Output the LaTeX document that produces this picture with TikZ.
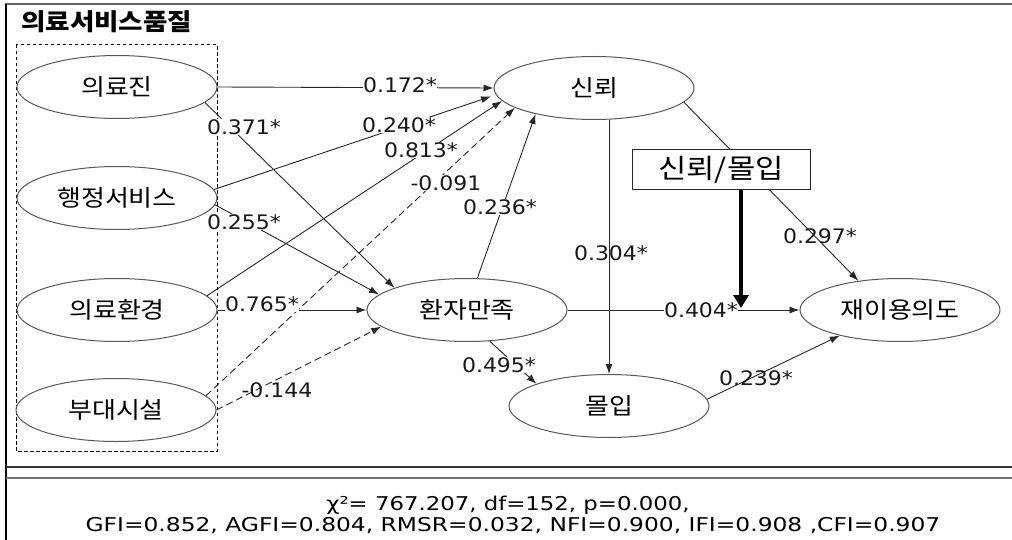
\documentclass[tikz,border=0pt]{standalone}
\usepackage{fontspec}
\usepackage{graphicx}
\usetikzlibrary{arrows.meta,shapes.geometric,backgrounds}
\newfontfamily\kr{Noto Sans CJK KR}
\newfontfamily\dv{DejaVu Sans}
\newcommand\hx[1]{\scalebox{1.13}[1]{#1}}
\newcommand\lx[1]{\scalebox{1.1}[1]{#1}}
\tikzset{
  ell/.style={ellipse, draw=black!65, line width=1pt, minimum width=200pt, minimum height=63pt, inner sep=0pt, font=\kr\fontsize{23}{23}\selectfont},
  conn/.style={draw=black!85, line width=0.9pt, -{Latex[length=10pt,width=7pt]}},
  dconn/.style={conn, dash pattern=on 7pt off 4pt},
  lab/.style={font=\dv\fontsize{20}{20}\selectfont, inner sep=0.5pt, fill=white, text=black!90},
  labn/.style={lab, fill=none},
  stat/.style={font=\dv\fontsize{19}{19}\selectfont, anchor=base, inner sep=0pt}
}
\begin{document}
\begin{tikzpicture}[x=1pt,y=-1pt]
\useasboundingbox (0,0) rectangle (1012,540);
% frame
\draw[line width=1.6pt, black!60] (5,4) -- (1012,4);
\draw[line width=1.3pt, black] (6,4) -- (6,540);
\draw[line width=1.3pt, black!80] (6,467) -- (1012,467);
\draw[line width=2.2pt, black!55] (6,478) -- (1012,478);
% title
\node[anchor=west, font=\kr\bfseries\fontsize{23.5}{23.5}\selectfont, inner sep=0pt] (title) at (21,22) {\hx{의료서비스품질}};
% dashed group
\draw[black, line width=1pt, dash pattern=on 3.5pt off 2.5pt] (16,45) rectangle (217,451);
% latent nodes
\node[ell] (A) at (117,87) {\hx{의료진}};
\node[ell] (B) at (117,198) {\hx{행정서비스}};
\node[ell] (C) at (117,310) {\hx{의료환경}};
\node[ell] (D) at (116,410) {\hx{부대시설}};
\node[ell] (T) at (594,88) {\hx{신뢰}};
\node[ell] (S) at (467,310) {\hx{환자만족}};
\node[ell] (M) at (609,406) {\hx{몰입}};
\node[ell] (R) at (900,310) {\hx{재이용의도}};
\node[draw=black!85, fill=white, line width=1pt, minimum width=178pt, minimum height=40pt, inner sep=0pt, font=\kr\fontsize{27}{27}\selectfont] (box) at (721,170) {\scalebox{1.14}[1]{신뢰/몰입}};
\coordinate (jn) at (741,308);
% connectors
\begin{scope}[on background layer]
\draw[conn] (A.east) -- (T.west);
\draw[conn] (A.-10) -- (S.163);
\draw[conn, shorten >=5pt] (B.5) -- (T.184);
\draw[conn] (B.-4) -- (S.170);
\draw[conn] (C.9) -- (T.188);
\draw[conn] (C.east) -- (S.west);
\draw[dconn] (D.9) -- (T.194);
\draw[dconn] (D.east) -- (S.191);
\draw[conn] (S.72) -- (T.204);
\draw[conn] (T.south -| M.north) -- (M.north);
\draw[conn] (S.-54) -- (M.163);
\draw[conn] (S.east) -- (R.west);
\draw[conn] (M.4) -- (R.203);
\draw[conn] (T.-9) -- (R.145);
\draw[line width=4.5pt, black, -{Triangle[length=13pt,width=15pt]}] (box.south -| jn) -- (jn);
\end{scope}
% path labels
\node[lab] (l1) at (400,85) {\lx{0.172*}};
\node[lab] (l2) at (244,127) {\lx{0.371*}};
\node[lab] (l3) at (399,125) {\lx{0.240*}};
\node[lab] (l4) at (421,150) {\lx{0.813*}};
\node[lab] (l5) at (446,183) {\lx{-0.091}};
\node[lab] (l6) at (244,222) {\lx{0.255*}};
\node[lab] (l7) at (500,207) {\lx{0.236*}};
\node[labn] (l8) at (611,253) {\lx{0.304*}};
\node[labn] (l9) at (820,236) {\lx{0.297*}};
\node[lab] (l10) at (262,304) {\lx{0.765*}};
\node[lab] (l11) at (701,310) {\lx{0.404*}};
\node[lab] (l12) at (499,365) {\lx{0.495*}};
\node[labn] (l13) at (277,390) {\lx{-0.144}};
\node[labn] (l14) at (756,378) {\lx{0.239*}};
% fit statistics
\node[stat] (s1) at (508,510) {\scalebox{1.2}[1]{χ²= 767.207, df=152, p=0.000,}};
\node[stat] (s2) at (513,531) {\scalebox{1.23}[1]{GFI=0.852, AGFI=0.804, RMSR=0.032, NFI=0.900, IFI=0.908 ,CFI=0.907}};
\end{tikzpicture}
\end{document}
